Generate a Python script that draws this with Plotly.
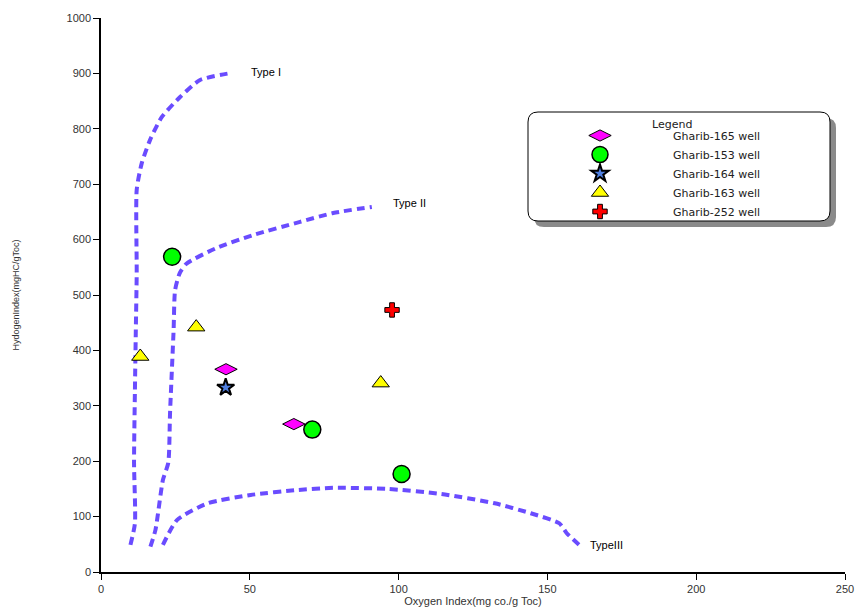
import plotly.graph_objects as go

# ---- data ----
well_names = ["Gharib-165 well", "Gharib-153 well", "Gharib-164 well", "Gharib-163 well", "Gharib-252 well"]
g165_oi = [42, 64.8]
g165_hi = [366, 267]
g153_oi = [23.9, 71, 101]
g153_hi = [569, 257, 177]
g164_oi = [41.9]
g164_hi = [333]
g163_oi = [13.2, 32, 94]
g163_hi = [389, 442, 341]
g252_oi = [97.8]
g252_hi = [473]

type1_oi = [9.9, 11.4, 11.1, 11.4, 11.7, 12, 12, 13.7, 16.5, 20.4, 26.5, 33.3, 44]
type1_hi = [49, 88, 197, 329, 437, 540, 690, 738, 780, 821, 857, 888, 901]
type2_oi = [16.6, 18.3, 20.8, 22.6, 23.2, 24.4, 24.9, 26.5, 28.8, 38.9, 51, 66.9, 78, 91]
type2_hi = [46, 76, 166, 197, 287, 437, 509, 540, 557, 585, 608, 632, 648, 659]
type3_oi = [20.8, 25.6, 35.9, 50.3, 66, 78, 96.2, 114.2, 132.3, 144.4, 154, 156.5, 161.3]
type3_hi = [49, 94, 124, 139, 148, 152, 150, 141, 124, 106, 88, 70, 46]

x_ticks = [0, 50, 100, 150, 200, 250]
y_ticks = [0, 100, 200, 300, 400, 500, 600, 700, 800, 900, 1000]

curve_color = "#6a4cff"
fig = go.Figure()
for xs, ys in [(type1_oi, type1_hi), (type2_oi, type2_hi), (type3_oi, type3_hi)]:
    fig.add_trace(go.Scatter(x=xs, y=ys, mode="lines", showlegend=False, hoverinfo="skip",
                             line=dict(color=curve_color, width=4, dash="8px,5px", shape="spline", smoothing=0.6)))

mk_line = dict(color="black", width=1)
fig.add_trace(go.Scatter(x=g165_oi, y=g165_hi, mode="markers", name=well_names[0],
                         marker=dict(symbol="diamond-wide", size=16, color="#ff00ff", line=mk_line)))
fig.add_trace(go.Scatter(x=g153_oi, y=g153_hi, mode="markers", name=well_names[1],
                         marker=dict(symbol="circle", size=17, color="#00ff00", line=dict(color="black", width=1.5))))
fig.add_trace(go.Scatter(x=g164_oi, y=g164_hi, mode="markers", name=well_names[2],
                         marker=dict(symbol="star", size=13, color="#4f7fe0", line=dict(color="black", width=2))))
fig.add_trace(go.Scatter(x=g163_oi, y=g163_hi, mode="markers", name=well_names[3],
                         marker=dict(symbol="triangle-up", size=15, color="#ffff00", line=mk_line)))
fig.add_trace(go.Scatter(x=g252_oi, y=g252_hi, mode="markers", name=well_names[4],
                         marker=dict(symbol="cross", size=12, color="#ff0000", line=mk_line)))

# type labels
lab_font = dict(family="Liberation Sans, Arial", size=11, color="black")
fig.add_annotation(x=49.7, y=902, text="Type I", showarrow=False, xanchor="left", yanchor="middle", font=lab_font)
fig.add_annotation(x=97.4, y=666, text="Type II", showarrow=False, xanchor="left", yanchor="middle", font=lab_font)
fig.add_annotation(x=163.6, y=49, text="TypeIII", showarrow=False, xanchor="left", yanchor="middle", font=lab_font)

# legend box (rounded) + shadow
L, R, T, B = 101, 845, 18, 572
def px(xp):
    return (xp - L) / (R - L)
def py(yp):
    return (B - yp) / (B - T)
def rounded(x0p, y0p, x1p, y1p, r=10):
    x0, x1 = px(x0p), px(x1p)
    yt, yb = py(y0p), py(y1p)
    dx = r / (R - L)
    dy = r / (B - T)
    return (f"M {x0+dx},{yt} L {x1-dx},{yt} Q {x1},{yt} {x1},{yt-dy} L {x1},{yb+dy} "
            f"Q {x1},{yb} {x1-dx},{yb} L {x0+dx},{yb} Q {x0},{yb} {x0},{yb+dy} L {x0},{yt-dy} "
            f"Q {x0},{yt} {x0+dx},{yt} Z")
fig.add_shape(type="path", xref="paper", yref="paper", path=rounded(534, 118, 836, 227),
              fillcolor="#8a8a8a", line=dict(width=0), layer="above")
fig.add_shape(type="path", xref="paper", yref="paper", path=rounded(528, 112, 830, 221),
              fillcolor="white", line=dict(color="black", width=1), layer="above")
fig.add_annotation(xref="paper", yref="paper", x=px(672), y=py(124), text="Legend", showarrow=False,
                   xanchor="center", yanchor="middle",
                   font=dict(family="DejaVu Sans", size=11, color="#222222"))

tick_font = dict(family="Liberation Sans, Arial", size=11, color="#333333")
fig.update_layout(
    width=857, height=608,
    margin=dict(l=L, r=857 - R, t=T, b=608 - B),
    paper_bgcolor="white", plot_bgcolor="white",
    legend=dict(
        x=px(527), y=py(121), xanchor="left", yanchor="top",
        bgcolor="rgba(0,0,0,0)", borderwidth=0,
        itemwidth=136, tracegroupgap=0,
        font=dict(family="DejaVu Sans", size=11, color="#222222"),
    ),
    xaxis=dict(range=[0, 250], tickvals=x_ticks, showgrid=False, zeroline=False,
               showline=True, linecolor="black", linewidth=1.5, ticks="outside", ticklen=6,
               tickcolor="black", tickfont=tick_font, automargin=False,
               title=dict(text="Oxygen Index(mg co./g Toc)", standoff=0,
                          font=dict(family="Liberation Sans, Arial", size=11, color="#333333"))),
    yaxis=dict(range=[0, 1000], tickvals=y_ticks, showgrid=False, zeroline=False,
               showline=True, linecolor="black", linewidth=1.5, ticks="outside", ticklen=6,
               tickcolor="black", tickfont=tick_font, automargin=False,
               title=dict(text="HydogenIndex(mgHC/gToc)", standoff=45,
                          font=dict(family="Liberation Sans, Arial", size=9, color="#333333"))),
)

fig.write_html("out.html", config={"displayModeBar": False},
               post_script="document.body.style.margin='0';")
